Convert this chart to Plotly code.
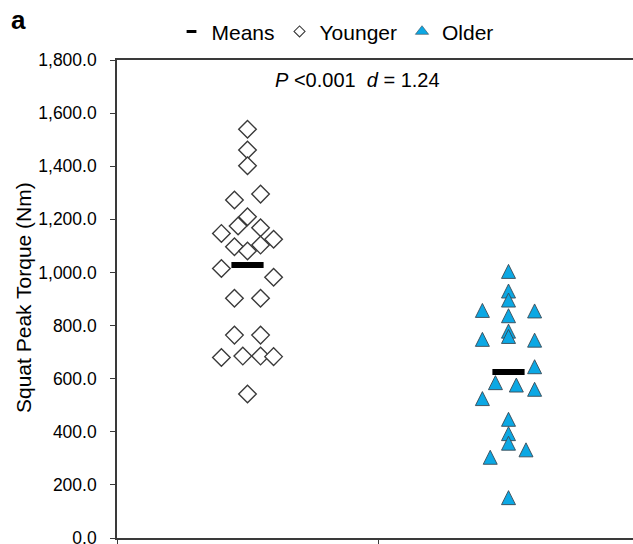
import plotly.graph_objects as go

# ---- data ----
groups = ["Younger", "Older"]
younger_values = [1539, 1461, 1402, 1295, 1273, 1210, 1175, 1168, 1147, 1125, 1103, 1097,
                  1081, 1015, 982, 903, 903, 764, 764, 680, 685, 685, 683, 542]
younger_jitter = [0, 0, 0, 0.05, -0.05, 0, -0.036, 0.05, -0.1, 0.1, 0.05, -0.05,
                  0, -0.1, 0.1, -0.05, 0.05, -0.05, 0.05, -0.1, -0.018, 0.05, 0.1, 0]
older_values = [1004, 930, 896, 857, 855, 837, 779, 759, 748, 745, 645, 585,
                576, 560, 525, 447, 393, 357, 332, 304, 152]
older_jitter = [0, 0, 0, -0.1, 0.1, 0, 0, 0, -0.1, 0.1, 0.1, -0.05,
                0.03, 0.1, -0.1, 0, 0, 0, 0.067, -0.07, 0]
group_means = [1028, 625]
y_ticks = [0, 200, 400, 600, 800, 1000, 1200, 1400, 1600, 1800]
stat_text = "<i>P</i> <0.001\u00a0\u00a0<i>d</i> = 1.24"
y_title = "Squat Peak Torque (Nm)"

FONT = "Liberation Sans, Arial, sans-serif"
AXIS_COL = "#3a3a3a"
BLUE = "#0CA8E4"

fig = go.Figure()

# data traces
fig.add_trace(go.Scatter(
    x=[0 + j for j in younger_jitter], y=younger_values, mode="markers",
    name="Younger", showlegend=False,
    marker=dict(symbol="diamond", size=13.5, color="white",
                line=dict(color="#3a3a3a", width=1.4)),
))
fig.add_trace(go.Scatter(
    x=[1 + j for j in older_jitter], y=older_values, mode="markers",
    name="Older", showlegend=False,
    marker=dict(symbol="arrow-down", angle=180, standoff=7, size=14, color=BLUE,
                line=dict(color="#3a4a55", width=0.9)),
))
fig.add_trace(go.Scatter(
    x=[0, 1], y=group_means, mode="markers", name="Means", showlegend=False,
    marker=dict(symbol="line-ew", size=23, color="black",
                line=dict(color="black", width=6)),
))

# legend-only entries (smaller symbols, as in the reference legend)
fig.add_trace(go.Scatter(
    x=[None], y=[None], mode="markers", name="Means",
    marker=dict(symbol="line-ew", size=7, color="black", line=dict(color="black", width=3)),
))
fig.add_trace(go.Scatter(
    x=[None], y=[None], mode="markers", name="Younger",
    marker=dict(symbol="diamond", size=8.5, color="white", line=dict(color="#3a3a3a", width=1.1)),
))
fig.add_trace(go.Scatter(
    x=[None], y=[None], mode="markers", name="Older",
    marker=dict(symbol="triangle-up", size=11.5, color=BLUE, line=dict(color="#3a4a55", width=0.6)),
))

fig.update_layout(
    width=633, height=544,
    margin=dict(l=117, r=0, t=60, b=6, autoexpand=False),
    plot_bgcolor="white", paper_bgcolor="white",
    font=dict(family=FONT, color="black"),
    title=dict(text="<b>a</b>", x=11 / 633, xanchor="left", xref="container",
               y=1 - 20 / 544, yanchor="middle", yref="container",
               font=dict(size=26, family=FONT, color="black")),
    legend=dict(orientation="h", x=0.4225, xanchor="center", y=1.059, yanchor="middle",
                font=dict(size=21, family=FONT), itemwidth=30,
                bgcolor="rgba(0,0,0,0)", tracegroupgap=0),
    showlegend=True,
    xaxis=dict(range=[-0.5, -0.5 + 516 / 261], showgrid=False, zeroline=False,
               showline=True, linecolor=AXIS_COL, linewidth=1.6, mirror=True,
               tickvals=[-0.5, 0.5, 1.5], ticktext=["", "", ""], ticks="outside",
               ticklen=6, tickcolor=AXIS_COL, tickwidth=1.3, automargin=False,
               fixedrange=True),
    yaxis=dict(range=[0, 1800], tickvals=y_ticks, tickformat=",.1f",
               showgrid=False, zeroline=False, showline=True, linecolor=AXIS_COL,
               linewidth=1.6, ticks="outside", ticklen=5, tickcolor=AXIS_COL,
               tickwidth=1.3, ticklabelstandoff=10, ticklabeloverflow="allow",
               tickfont=dict(size=17.5, family=FONT, color="black"),
               automargin=False, fixedrange=True),
)

fig.add_annotation(
    text=stat_text, xref="paper", yref="paper",
    x=(357 - 117) / 516, y=(538 - 80) / 478, xanchor="center", yanchor="middle",
    showarrow=False, font=dict(size=20, family=FONT, color="black"),
)
fig.add_annotation(
    text=y_title, xref="paper", yref="paper", textangle=-90,
    x=(23 - 117) / 516, y=(538 - 298) / 478, xanchor="center", yanchor="middle",
    showarrow=False, font=dict(size=21, family=FONT, color="black"),
)

fig.write_html("out.html")
